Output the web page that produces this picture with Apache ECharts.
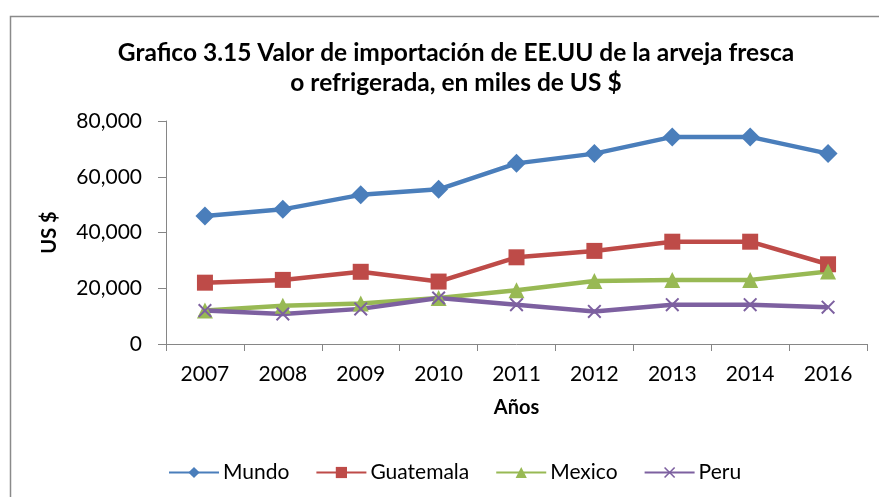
<!DOCTYPE html>
<html><head><meta charset="utf-8">
<script src="https://cdn.jsdelivr.net/npm/echarts@6/dist/echarts.min.js"></script>
<style>html,body{margin:0;padding:0;background:#fff}#c{width:879px;height:497px}</style>
</head><body><div id="c"></div>
<script>
const years = ['2007','2008','2009','2010','2011','2012','2013','2014','2016'];
const mundo = [45900, 48300, 53500, 55500, 64800, 68300, 74300, 74300, 68300];
const guatemala = [22000, 23000, 25900, 22400, 31100, 33400, 36700, 36700, 28600];
const mexico = [12000, 13700, 14500, 16500, 19300, 22600, 23000, 23000, 26000];
const peru = [12000, 10800, 12600, 16500, 14100, 11700, 14100, 14100, 13200];
const yTicks = [0, 20000, 40000, 60000, 80000];

const FONT = 'Lato';
const xShape = 'path://M0,1L1,0L5,4L9,0L10,1L6,5L10,9L9,10L5,6L1,10L0,9L4,5Z';
const chart = echarts.init(document.getElementById('c'), null, {renderer:'canvas'});
function s(name, data, color, symbol, size){
  return {name, type:'line', data, symbol, symbolSize:size, showSymbol:true,
    lineStyle:{color, width:4.5}, itemStyle:{color}, emphasis:{disabled:true}, z: 2};
}
chart.setOption({
  animation:false,
  textStyle:{fontFamily:FONT},
  graphic:[{type:'rect', left:8, top:14, shape:{width:900, height:520}, style:{fill:'none', stroke:'#8a8a8a', lineWidth:1.5}, silent:true}],
  title:{text:'Grafico 3.15 Valor de importación de EE.UU de la arveja fresca\no refrigerada, en miles de US $', left:451, textAlign:'center', top:33,
    textStyle:{fontFamily:FONT, fontWeight:'bold', fontSize:24.5, lineHeight:30, color:'#000'}},
  legend:{top:457, left:163, itemWidth:50, itemHeight:14, itemGap:26,
    textStyle:{fontFamily:FONT, fontSize:21, color:'#000', padding:[0,0,0,-1]},
    data:['Mundo','Guatemala','Mexico','Peru']},
  grid:{left:166, right:12, top:121, bottom:153},
  xAxis:{type:'category', data:years, boundaryGap:true,
    axisLine:{lineStyle:{color:'#868686', width:1}},
    axisTick:{show:true, length:7, inside:false, alignWithLabel:false, lineStyle:{color:'#868686'}},
    axisLabel:{color:'#000', fontSize:21, margin:20, fontFamily:FONT},
    name:'Años', nameLocation:'middle', nameGap:54,
    nameTextStyle:{fontWeight:'bold', fontSize:20, color:'#000', fontFamily:FONT}},
  yAxis:{type:'value', min:yTicks[0], max:yTicks[yTicks.length-1], interval:20000,
    axisLine:{show:true, lineStyle:{color:'#868686', width:1}},
    axisTick:{show:true, length:8, lineStyle:{color:'#868686'}},
    splitLine:{show:false},
    axisLabel:{color:'#000', fontSize:21, margin:24, fontFamily:FONT,
      formatter:v=>v.toLocaleString('en-US')},
    name:'US $', nameLocation:'middle', nameGap:106, nameRotate:90,
    nameTextStyle:{fontWeight:'bold', fontSize:20, color:'#000', fontFamily:FONT}},
  series:[
    s('Mundo', mundo, '#4A7EBB', 'diamond', 19),
    s('Guatemala', guatemala, '#BE4B48', 'rect', 16),
    s('Mexico', mexico, '#98B954', 'triangle', 16),
    s('Peru', peru, '#7D60A0', xShape, 14)
  ]
});
</script></body></html>
